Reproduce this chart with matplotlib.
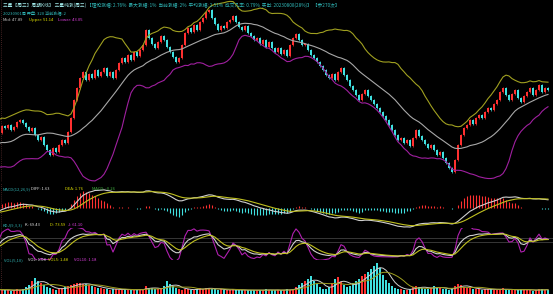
import numpy as np
import pandas as pd
import matplotlib
matplotlib.use("Agg")
import matplotlib.pyplot as plt

plt.rcParams['font.family'] = ['Noto Sans CJK SC', 'DejaVu Sans']

# weekly closes before the visible window (only used to warm up the indicators)
pre_close = [38.0, 36.0, 33.0, 30.0, 28.0, 29.0, 31.0, 34.0, 37.0, 39.0,
             37.0, 34.0, 31.0, 29.0, 28.0, 30.0, 33.0, 35.0, 36.0, 38.0]
close = [37.5, 38.4, 36.9, 37.8, 39.2, 39.8, 38.9, 37.8, 36.6, 37.5,
         35.5, 34.0, 34.9, 32.6, 31.1, 29.7, 31.7, 30.6, 32.6, 34.0,
         33.2, 36.3, 40.4, 45.6, 49.0, 52.0, 53.7, 51.4, 53.1, 52.0,
         54.3, 52.5, 53.7, 54.8, 52.5, 53.7, 52.0, 54.3, 56.3, 57.7,
         56.6, 58.6, 57.1, 59.5, 58.3, 60.0, 61.5, 65.8, 63.5, 61.8,
         60.6, 62.3, 64.1, 62.9, 60.9, 59.5, 58.0, 56.6, 57.7, 61.5,
         65.0, 66.4, 65.2, 67.3, 65.8, 68.1, 69.3, 71.0, 71.6, 69.3,
         67.5, 65.8, 67.0, 66.4, 68.1, 68.7, 69.9, 68.1, 66.7, 65.8,
         67.0, 65.0, 64.1, 62.9, 63.5, 61.8, 62.9, 60.9, 62.3, 60.6,
         59.5, 60.6, 58.9, 60.0, 58.3, 61.5, 63.5, 64.7, 62.9, 61.5,
         61.8, 60.0, 58.6, 57.7, 56.6, 55.4, 54.3, 52.8, 52.0, 53.1,
         51.4, 53.7, 54.8, 52.8, 51.4, 49.6, 48.5, 47.0, 45.6, 47.3,
         48.5, 46.7, 45.6, 44.4, 43.3, 42.1, 41.0, 39.8, 38.4, 36.9,
         35.5, 34.0, 34.6, 33.2, 34.0, 32.3, 34.6, 36.9, 35.2, 34.0,
         32.9, 31.7, 32.6, 31.1, 29.7, 30.6, 28.8, 27.4, 25.9, 24.8,
         28.2, 32.6, 35.5, 37.5, 38.4, 39.8, 38.6, 40.4, 41.2, 40.4,
         42.1, 43.3, 42.7, 44.4, 45.6, 47.9, 49.0, 47.0, 45.6, 47.3,
         48.5, 46.2, 45.0, 46.7, 47.9, 49.0, 47.0, 48.5, 49.9, 47.9,
         49.0, 48.5]
pre_vol = [1.5, 1.4, 1.6, 1.8, 1.5, 1.3, 1.2, 1.4, 1.6, 1.5,
           1.3, 1.2, 1.4, 1.5, 1.3, 1.2, 1.1, 1.3, 1.2, 1.1]
vol = [1.0, 1.2, 0.9, 1.1, 1.3, 1.0,
       1.5, 2.0, 2.6, 3.6, 4.5, 3.8, 3.0, 2.5, 2.0, 1.6,
       1.4, 1.2, 1.5, 1.8, 2.0, 2.2,
       2.5, 2.8, 3.0, 3.1, 2.9, 2.7, 2.5, 2.2, 2.0,
       1.8, 1.6, 1.5, 1.4, 1.2, 1.5, 1.3, 1.2, 1.1, 1.4, 1.3, 1.0, 1.2, 1.1, 1.3,
       1.5, 2.2, 1.8, 1.6, 1.4, 1.3, 1.5, 2.2, 3.6, 2.8, 2.2, 1.8, 1.5,
       1.2, 1.4, 1.3, 1.1, 1.2, 1.5, 1.7, 1.4, 1.6, 1.8, 1.5, 1.3, 1.2, 1.4, 1.1,
       1.0, 1.2, 1.3, 1.1, 1.0, 1.2, 1.1, 1.0, 1.1,
       1.0, 1.1, 1.2, 1.0, 1.3, 1.1, 1.0, 1.2, 1.1, 1.0, 1.2, 1.3,
       1.2, 1.5, 2.0, 2.5, 3.0, 3.6, 4.2, 5.0, 3.8, 2.8, 2.0, 1.5,
       1.4, 2.0, 3.0, 4.2, 4.8, 3.5, 2.6, 2.0, 2.4,
       3.0, 3.6, 4.2, 5.0, 5.6, 6.2, 7.0, 7.8, 8.8, 7.5, 5.5, 4.0, 3.0,
       2.2, 1.8, 1.5, 1.3, 1.2, 1.1, 1.4, 2.0, 2.3, 2.0, 1.8, 1.5,
       1.4, 1.8, 2.2, 2.0, 1.6, 1.4, 1.3, 1.2, 1.6, 2.4, 2.8, 2.5,
       2.0, 1.8, 1.6, 1.5, 1.4, 1.3, 1.2, 1.4, 1.5, 1.3, 1.2, 1.1, 1.4, 1.6, 1.3,
       1.2, 1.0, 1.1, 1.2, 1.4, 1.3, 1.1, 1.0, 0.9, 1.2, 1.5, 1.3, 1.1, 1.08]

title_a = "三星【周三】周期K线】 三星纯涨(周三) "
title_b = "【理论涨幅: 2.76%  最大涨幅: 1%  当前涨幅: 2%  平均涨幅: 2.51%  成交几率: 0.79%  买出: 20230808(28%)】 【参270次】"
line2 = "20230901周 开盘: 320 当前涨幅: 2"
boll_lbl = [("Mid: 47.89", "#c8c8c8", 3), ("Upper: 51.14", "#e0e000", 29), ("Lower: 43.05", "#e040e0", 58)]
macd_lbl = [("MACD(12,26,9)", "#30b0b0", 3), ("DIFF: 1.63", "#e0e0e0", 31), ("DEA: 1.76", "#e0e000", 65), ("MACD: -0.26", "#40b040", 92)]
kdj_lbl = [("KDJ(9,3,3)", "#30b0b0", 3), ("K: 69.43", "#e0e0e0", 25), ("D: 73.59", "#e0e000", 50), ("J: 61.10", "#e040e0", 68)]
vol_lbl = [("VOL(5,10)", "#30b0b0", 4), ("VOL: 1.08", "#e0e0e0", 28), ("VOL5: 1.48", "#e0e000", 48), ("VOL10: 1.18", "#e040e0", 74)]

RED = "#ff3030"
CYAN = "#40e0e0"
W, H = 553, 294

c = pd.Series(pre_close + close)
v = pd.Series(pre_vol + vol)
o = c.shift(1).fillna(c.iloc[0])
hi = np.maximum(o, c) + 0.35
lo = np.minimum(o, c) - 0.35
x = np.arange(len(c)) - len(pre_close)
up = (c >= o).values
col = np.where(up, RED, CYAN)

mid = c.rolling(20, min_periods=1).mean()
sd = c.rolling(20, min_periods=1).std(ddof=0)
upper = mid + 2 * sd
lower = mid - 2 * sd

dif = c.ewm(span=12, adjust=False).mean() - c.ewm(span=26, adjust=False).mean()
dea = dif.ewm(span=9, adjust=False).mean()
hist = 2 * (dif - dea)

llv = lo.rolling(9, min_periods=1).min()
hhv = hi.rolling(9, min_periods=1).max()
rsv = (c - llv) / (hhv - llv) * 100
k = rsv.ewm(alpha=1 / 3, adjust=False).mean()
d = k.ewm(alpha=1 / 3, adjust=False).mean()
j = 3 * k - 2 * d

ma5 = v.rolling(5, min_periods=1).mean()
ma10 = v.rolling(10, min_periods=1).mean()

fig = plt.figure(figsize=(W / 100, H / 100), dpi=100, facecolor="black")


def panel(top, bottom):
    ax = fig.add_axes([0, 1 - bottom / H, 1, (bottom - top) / H])
    ax.set_facecolor("black")
    ax.set_xlim(-5 / 3, (W - 5) / 3)
    ax.set_xticks([])
    ax.set_yticks([])
    for s in ax.spines.values():
        s.set_visible(False)
    ax.axvline(-1.4, color="#804040", lw=0.5, ls=(0, (1, 2)))
    return ax


# main price panel
ax = panel(0, 182)
ax.set_ylim(74.48 - 0.289 * 182, 74.48)
ax.vlines(x, lo, hi, colors=col, lw=0.5)
ax.bar(x, (c - o).abs().clip(lower=0.15), bottom=np.minimum(o, c), width=0.55, color=col, linewidth=0)
ax.plot(x, upper, color="#a0a020", lw=0.8)
ax.plot(x, mid, color="#a8a8a8", lw=0.8)
ax.plot(x, lower, color="#a020a0", lw=0.8)

# MACD panel
axm = panel(183, 228)
m = max(-min(dif.min(), dea.min(), hist.min()), max(dif.max(), dea.max(), hist.max()) / 1.25) * 1.05
axm.set_ylim(-m, 1.25 * m)
axm.vlines(x, 0, hist, colors=np.where(hist >= 0, RED, CYAN), lw=0.8)
axm.plot(x, dif, color="#d0d0d0", lw=0.8)
axm.plot(x, dea, color="#c0c020", lw=0.8)

# KDJ panel
axk = panel(228, 260)
axk.set_ylim(-12, 118)
for lvl in (77, 61):
    axk.axhline(lvl, color="#404040", lw=0.6)
axk.plot(x, j, color="#b020b0", lw=0.8)
axk.plot(x, k, color="#d0d0d0", lw=0.8)
axk.plot(x, d, color="#c0c020", lw=0.8)

# volume panel
axv = panel(262, 294)
axv.set_ylim(0, max(vol) * 1.03)
axv.bar(x, v, width=0.62, color=col, linewidth=0)
axv.plot(x, ma5, color="#d0d0d0", lw=0.7)
axv.plot(x, ma10, color="#a0a020", lw=0.7)

fs = 3.0
t = fig.text(3 / W, 1 - 5 / H, title_a, color="#a0e8e8", fontsize=3.4, va="center")
fig.canvas.draw()
bb = t.get_window_extent()
fig.text(bb.x1 / W, 1 - 5 / H, title_b, color="#30b8b8", fontsize=3.4, va="center")
fig.text(3 / W, 1 - 13 / H, line2, color="#30b8b8", fontsize=fs, va="center")
for row, yy in ((boll_lbl, 20), (macd_lbl, 189), (kdj_lbl, 225), (vol_lbl, 260)):
    for txt, cc, xx in row:
        fig.text(xx / W, 1 - yy / H, txt, color=cc, fontsize=fs, va="center")

fig.savefig("out.png", dpi=100, facecolor="black")
